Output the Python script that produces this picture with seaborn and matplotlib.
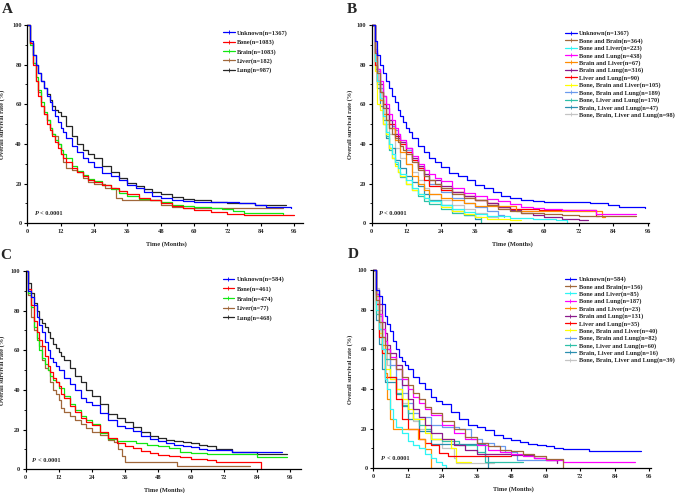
import matplotlib
matplotlib.use('Agg')
import matplotlib.pyplot as plt
import seaborn as sns
import pandas as pd
from matplotlib.lines import Line2D
from matplotlib.ticker import MultipleLocator

# ---- panel A / B shared: Unknown (n=1367)
unk1367_t = [0, 1, 2, 3, 4, 5, 6, 7, 8, 9, 10, 11, 12, 13, 14, 16, 18, 20, 22, 24, 27, 30, 33, 36, 39, 42, 45, 48, 52, 56, 60, 66, 72, 76, 80, 82, 86, 95]
unk1367_s = [100, 92, 85, 80, 76, 72, 68, 64, 61, 57, 54, 51, 48, 46, 43, 39, 36, 33, 31, 28.5, 25.5, 24, 22, 19.5, 18, 16, 14, 13, 12, 11, 10.5, 10.5, 10.5, 10.3, 10, 9, 8, 7.5]

# ---- panel A
bone1083_t = [0, 1, 2, 3, 4, 5, 6, 7, 8, 9, 10, 11, 12, 13, 14, 16, 18, 20, 22, 24, 27, 30, 33, 36, 40, 44, 48, 52, 56, 60, 66, 72, 78, 96]
bone1083_s = [100, 91, 80, 72, 64, 59, 55, 50, 47, 44, 41, 38, 35, 33, 31, 28, 26, 24, 22, 21, 19.5, 18, 16.5, 15, 13, 11.5, 10, 8.5, 7.5, 6.5, 5.5, 4.5, 4, 4]
brain1083_t = [0, 1, 2, 3, 4, 5, 6, 7, 8, 9, 10, 11, 12, 13, 14, 16, 18, 20, 22, 24, 27, 30, 33, 36, 40, 44, 48, 52, 56, 60, 66, 70, 74, 78, 84, 92]
brain1083_s = [100, 90, 81, 74, 67, 61, 56, 52, 48, 45, 42, 40, 37, 35, 33, 29, 26.5, 24.5, 22.5, 21.5, 19.5, 17.5, 15.5, 14, 12.5, 11.5, 10.5, 9, 8.5, 8, 7.5, 7, 6, 5, 5, 4.5]
liver182_t = [0, 1, 2, 3, 4, 5, 6, 7, 8, 9, 10, 11, 12, 13, 14, 16, 18, 20, 22, 24, 28, 32, 34, 38, 44, 48, 52, 56, 64, 72, 80, 92]
liver182_s = [100, 91, 81, 72, 66, 59, 55, 52, 48, 45, 44, 40, 35, 31, 28, 27, 26, 23, 21, 20, 18, 13, 12, 11.5, 11.5, 9, 8, 7.5, 7.5, 7.5, 7.5, 7.5]
lung987_t = [0, 1, 2, 3, 4, 5, 6, 7, 8, 9, 10, 11, 12, 14, 16, 18, 20, 22, 24, 27, 30, 33, 36, 39, 42, 45, 48, 52, 56, 60, 66, 72, 78, 82, 86, 93]
lung987_s = [100, 91, 85, 80, 76, 72, 68, 65, 62, 59, 57, 56, 54, 49, 44, 40, 37, 35, 33, 29, 26, 23, 20.5, 19, 17.5, 16, 15, 13.5, 12.5, 11.5, 10.5, 10, 10, 9, 9, 9]

# ---- panel B
bb364_t = [0, 1, 2, 3, 4, 5, 6, 7, 8, 9, 10, 11, 12, 14, 16, 18, 20, 22, 24, 28, 32, 36, 40, 44, 48, 52, 56, 60, 66, 72, 80, 92]
bb364_s = [100, 86, 76, 66, 58, 52, 48, 45, 43, 41, 39, 37, 35, 31, 27, 24, 22, 20, 18, 15, 13, 11.5, 9, 7, 6, 5, 5, 4.5, 4, 3.5, 3.5, 3.5]
bl223_t = [0, 1, 2, 3, 4, 5, 6, 7, 8, 9, 10, 12, 14, 16, 18, 20, 24, 28, 32, 36, 40, 48, 56, 64, 68]
bl223_s = [100, 82, 72, 63, 54, 46, 40, 35, 31, 28, 25, 22, 18, 15, 13, 11, 9, 7, 5.5, 4.5, 3.5, 2.5, 2, 1.5, 0]
blu438_t = [0, 1, 2, 3, 4, 5, 6, 7, 8, 9, 10, 12, 14, 16, 18, 20, 22, 24, 28, 32, 36, 40, 44, 48, 52, 56, 60, 66, 72, 78, 92]
blu438_s = [100, 87, 78, 72, 64, 60, 55, 52, 48, 45, 42, 38, 34, 30, 27, 25, 23, 21.5, 18, 15.5, 14, 12.5, 11, 9.5, 8, 7.5, 7, 6.5, 6.5, 4.5, 4.5]
brl67_t = [0, 1, 2, 3, 4, 5, 6, 8, 10, 12, 14, 16, 18, 20, 24, 28, 32, 36, 44, 50, 56, 80, 81]
brl67_s = [100, 82, 72, 62, 55, 52, 48, 42, 36, 30, 24, 20, 17, 15, 13, 12, 10, 8.5, 8.5, 6, 6, 3, 3]
brlu316_t = [0, 1, 2, 3, 4, 5, 6, 7, 8, 9, 10, 12, 14, 16, 18, 20, 24, 28, 32, 36, 40, 44, 48, 52, 56, 60, 66, 72, 75]
brlu316_s = [100, 86, 78, 70, 64, 58, 52, 48, 45, 43, 41, 38, 33, 29, 25, 22, 19, 16, 14, 12, 10, 8, 6.5, 5, 4, 3, 2, 1.5, 1.5]
ll90_t = [0, 1, 2, 3, 4, 5, 6, 8, 10, 12, 14, 16, 18, 20, 24, 28, 32, 36, 40, 44, 48, 58, 78, 79]
ll90_s = [100, 80, 72, 66, 60, 55, 50, 44, 40, 36, 32, 28, 22, 19, 17, 16, 14, 12, 10, 8, 7, 6.5, 3.5, 3.5]
bbl105_t = [0, 1, 2, 3, 4, 5, 6, 7, 8, 9, 10, 12, 14, 16, 18, 20, 24, 28, 32, 36, 40, 48, 52]
bbl105_s = [100, 77, 60, 57, 50, 45, 38, 33, 29, 26, 24, 20, 17, 15, 13, 11, 8, 6, 4.5, 3, 2, 1.5, 1.5]
bblu189_t = [0, 1, 2, 3, 4, 5, 6, 7, 8, 9, 10, 12, 14, 16, 18, 20, 24, 28, 32, 36, 40, 44, 46]
bblu189_s = [100, 88, 77, 68, 60, 55, 52, 49, 47, 45, 41, 37, 32, 28, 24, 20, 16, 13, 10, 8, 6, 4, 3]
bllu170_t = [0, 1, 2, 3, 4, 5, 6, 7, 8, 9, 10, 12, 14, 16, 18, 20, 24, 28, 32, 36, 38]
bllu170_s = [100, 78, 70, 62, 52, 44, 37, 33, 30, 26, 23.5, 20, 17, 14, 11, 9.5, 7, 5, 4, 3, 0]
brllu47_t = [0, 1, 2, 3, 4, 5, 6, 8, 10, 12, 14, 16, 18, 20, 24, 28, 32, 36, 38]
brllu47_s = [100, 80, 68, 59, 50, 43, 38, 32, 28, 24, 21, 19, 15, 12, 9, 6, 4, 2, 2]
all98_t = [0, 1, 2, 3, 4, 5, 6, 8, 10, 12, 14, 16, 18, 20, 24, 28, 32, 36, 40, 44]
all98_s = [100, 85, 72, 63, 55, 50, 45, 38, 33, 30, 26, 22, 18, 15, 12, 9, 7, 5, 3, 2]

# ---- panel C / D shared: Unknown (n=584)
unk584_t = [0, 1, 2, 3, 4, 5, 6, 7, 8, 9, 10, 11, 12, 14, 16, 18, 20, 22, 24, 27, 30, 33, 36, 39, 42, 45, 48, 51, 54, 57, 60, 63, 66, 70, 75, 80, 86, 93]
unk584_s = [100, 90, 87, 83, 77, 73, 69, 64, 60, 56, 54, 52, 50, 46, 43, 40, 36, 34, 32.5, 28.5, 25, 22, 21, 19.5, 17, 15.5, 14.5, 13.5, 12.5, 12, 11, 10, 9.5, 9.5, 8.5, 8.5, 8.5, 8.5]

# ---- panel C
bone461_t = [0, 1, 2, 3, 4, 5, 6, 7, 8, 9, 10, 11, 12, 13, 14, 16, 18, 20, 22, 24, 27, 30, 33, 36, 39, 42, 45, 48, 52, 56, 60, 66, 69, 75, 85.5]
bone461_s = [100, 91, 83, 75, 69, 65, 62, 57, 52, 49, 46, 44, 42, 38, 36, 32, 29, 26, 24, 22.5, 19, 16, 13.5, 12, 10.5, 9, 8, 7, 6.5, 6, 5, 4.5, 3.5, 3.5, 0]
brain474_t = [0, 1, 2, 3, 4, 5, 6, 7, 8, 9, 10, 11, 12, 14, 16, 18, 20, 22, 24, 27, 30, 33, 36, 40, 44, 48, 52, 56, 60, 66, 72, 78, 84, 95]
brain474_s = [100, 89, 82, 72, 65, 60, 56, 53, 50, 47, 45, 44, 41, 37, 33, 30, 27, 25, 23, 18.5, 15.5, 14.5, 14.3, 13.5, 12.5, 12, 10.5, 8.5, 8, 7.5, 7.5, 7.5, 6, 6]
liver77_t = [0, 1, 2, 3, 4, 5, 6, 7, 8, 9, 10, 11, 12, 13, 14, 16, 18, 20, 22, 24, 27, 30, 32, 33.5, 35, 36, 51, 55, 81.5]
liver77_s = [100, 88, 77, 70, 66, 62, 55, 51, 50, 44, 40, 38, 35, 31, 29, 27, 25, 23, 21, 19, 17.5, 15, 14, 10, 6.5, 3.5, 3.5, 1.7, 1.7]
lung468_t = [0, 1, 2, 3, 4, 5, 6, 7, 8, 9, 10, 11, 12, 13, 14, 16, 18, 20, 22, 24, 27, 30, 33, 36, 39, 42, 45, 48, 51, 54, 57, 60, 63, 66, 69, 72, 75, 80, 84, 95]
lung468_s = [100, 94, 89, 84, 80, 76, 74, 72, 69, 66, 63, 61, 59, 57, 55, 51, 47, 44, 40, 37, 33, 28, 26, 24, 21.5, 19, 17, 16, 15, 14.5, 14, 13.5, 12.5, 11.5, 10, 10, 8.7, 8.7, 7.5, 7.5]

# ---- panel D
bb156_t = [0, 1, 2, 3, 4, 5, 6, 8, 10, 12, 14, 16, 18, 20, 24, 28, 32, 36, 40, 44, 48, 52, 56, 60, 66]
bb156_s = [100, 85, 74, 66, 62, 58, 55, 50, 46, 42, 38, 35, 31, 28, 24, 20, 16, 13, 11, 9, 8.5, 7, 6, 4.5, 0]
bl85_t = [0, 1, 2, 3, 4, 5, 6, 7, 8, 10, 12, 14, 16, 18, 20, 22, 24, 25.5]
bl85_s = [100, 80, 70, 60, 45, 40, 30, 25, 21, 18, 14, 12, 10, 7, 5, 3, 1.5, 0]
blu187_t = [0, 1, 2, 3, 4, 5, 6, 8, 10, 12, 14, 16, 18, 20, 24, 28, 32, 36, 40, 44, 48, 52, 56, 60, 66, 91]
blu187_s = [100, 88, 78, 70, 64, 60, 56, 50, 45, 40, 36, 33, 30, 27, 22, 18, 15, 12, 9, 8, 7, 6, 5, 4, 3, 3]
brl23_t = [0, 1, 2, 3, 4, 5, 6, 7, 15.5, 18, 20]
brl23_s = [100, 87, 78, 62, 48, 35, 25, 20, 14.7, 9.6, 0]
brlu131_t = [0, 1, 2, 3, 4, 5, 6, 8, 10, 12, 14, 16, 18, 20, 24, 28, 32, 36, 48, 56, 60, 64]
brlu131_s = [100, 90, 83, 74, 68, 62, 58, 52, 42, 35, 30, 26, 22, 18, 15, 12, 9, 7, 6.5, 5, 4, 2.5]
ll35_t = [0, 1, 2, 3, 4, 7, 8, 10, 12, 16, 18, 20, 23, 26, 40, 48]
ll35_s = [100, 83, 66, 58, 46, 46, 35, 25, 20, 15, 13, 11.5, 7.5, 6, 6, 6]
bbl40_t = [0, 1, 2, 3, 4, 6, 8, 10, 12, 14, 18, 20, 24, 27, 29, 34]
bbl40_s = [100, 80, 68, 58, 50, 45, 40, 35, 30, 25, 18, 15, 15, 10, 3, 3]
bblu82_t = [0, 1, 2, 3, 4, 6, 8, 10, 12, 14, 16, 20, 24, 30, 34, 38, 42, 46, 50, 64]
bblu82_s = [100, 88, 77, 66, 60, 52, 45, 38, 33, 28, 26, 22, 21, 20, 15, 13, 11, 8, 4, 3.5]
bllu60_t = [0, 1, 2, 3, 4, 6, 8, 10, 12, 14, 16, 18, 20, 24, 30, 36, 39, 52]
bllu60_s = [100, 78, 70, 60, 55, 46, 38, 32, 28, 25, 22, 20, 15, 14, 12, 8, 3, 3]
brllu16_t = [0, 1, 2, 3, 4, 8, 10, 12, 16, 20, 36, 39, 40]
brllu16_s = [100, 75, 62.5, 50, 43.75, 37.5, 31.25, 25, 18.75, 12.5, 12.5, 6.25, 0]
all39_t = [0, 1, 2, 3, 4, 5, 6, 8, 10, 12, 14, 16, 20, 24, 28, 29, 42]
all39_s = [100, 91, 80, 70, 60, 52, 45, 40, 33, 28, 24, 20, 15, 10, 5, 2.6, 2.6]

# colours
c_unknown = '#0000FF'
c_bone = '#FF0000'
c_brain = '#11E811'
c_liver = '#A0673A'
c_lung = '#262626'
c_bb = '#A0673A'
c_bl = '#2EF5F5'
c_blu = '#FF00FF'
c_brl = '#FF8C00'
c_brlu = '#8B1A8B'
c_ll = '#FF0000'
c_bbl = '#FFFF00'
c_bblu = '#6A9AEE'
c_bllu = '#2EC0A8'
c_brllu = '#2A8FB0'
c_all = '#C4C4C4'

panel_a = [('Unknown(n=1367)', unk1367_t, unk1367_s, c_unknown),
           ('Bone(n=1083)', bone1083_t, bone1083_s, c_bone),
           ('Brain(n=1083)', brain1083_t, brain1083_s, c_brain),
           ('Liver(n=182)', liver182_t, liver182_s, c_liver),
           ('Lung(n=987)', lung987_t, lung987_s, c_lung)]
panel_b = [('Unknown(n=1367)', unk1367_t, unk1367_s, c_unknown),
           ('Bone and Brain(n=364)', bb364_t, bb364_s, c_bb),
           ('Bone and Liver(n=223)', bl223_t, bl223_s, c_bl),
           ('Bone and Lung(n=438)', blu438_t, blu438_s, c_blu),
           ('Brain and Liver(n=67)', brl67_t, brl67_s, c_brl),
           ('Brain and Lung(n=316)', brlu316_t, brlu316_s, c_brlu),
           ('Liver and Lung(n=90)', ll90_t, ll90_s, c_ll),
           ('Bone, Brain and Liver(n=105)', bbl105_t, bbl105_s, c_bbl),
           ('Bone, Brain and Lung(n=189)', bblu189_t, bblu189_s, c_bblu),
           ('Bone, Liver and Lung(n=170)', bllu170_t, bllu170_s, c_bllu),
           ('Brain, Liver and Lung(n=47)', brllu47_t, brllu47_s, c_brllu),
           ('Bone, Brain, Liver and Lung(n=98)', all98_t, all98_s, c_all)]
panel_c = [('Unknown(n=584)', unk584_t, unk584_s, c_unknown),
           ('Bone(n=461)', bone461_t, bone461_s, c_bone),
           ('Brain(n=474)', brain474_t, brain474_s, c_brain),
           ('Liver(n=77)', liver77_t, liver77_s, c_liver),
           ('Lung(n=468)', lung468_t, lung468_s, c_lung)]
panel_d = [('Unknown(n=584)', unk584_t, unk584_s, c_unknown),
           ('Bone and Brain(n=156)', bb156_t, bb156_s, c_bb),
           ('Bone and Liver(n=85)', bl85_t, bl85_s, c_bl),
           ('Bone and Lung(n=187)', blu187_t, blu187_s, c_blu),
           ('Brain and Liver(n=23)', brl23_t, brl23_s, c_brl),
           ('Brain and Lung(n=131)', brlu131_t, brlu131_s, c_brlu),
           ('Liver and Lung(n=35)', ll35_t, ll35_s, c_ll),
           ('Bone, Brain and Liver(n=40)', bbl40_t, bbl40_s, c_bbl),
           ('Bone, Brain and Lung(n=82)', bblu82_t, bblu82_s, c_bblu),
           ('Bone, Liver and Lung(n=60)', bllu60_t, bllu60_s, c_bllu),
           ('Brain, Liver and Lung(n=16)', brllu16_t, brllu16_s, c_brllu),
           ('Bone, Brain, Liver and Lung(n=39)', all39_t, all39_s, c_all)]

sns.set_theme(style='ticks')
plt.rcParams['font.family'] = ['Liberation Serif', 'DejaVu Serif']
plt.rcParams['font.weight'] = 'bold'
plt.rcParams['axes.labelweight'] = 'bold'

W, H = 676, 493
fig = plt.figure(figsize=(W / 100, H / 100), dpi=100)
FS = 4.6


def km_panel(series, x0, y0, ppm, xmax, letter, ylab_x, ptxt, leg_xy, leg_gap):
    # x0,y0: pixel position of data origin (from top-left), ppm: pixels per month
    width = xmax * ppm
    height = 198.3
    ax = fig.add_axes([x0 / W, 1 - y0 / H, width / W, height / H])
    df = pd.concat([pd.DataFrame({'t': t, 's': s, 'grp': lab}) for lab, t, s, c in series])
    pal = {lab: c for lab, t, s, c in series}
    order = [lab for lab, t, s, c in series]
    # draw from last to first so that Unknown sits on top
    sns.lineplot(data=df, x='t', y='s', hue='grp', hue_order=order[::-1], palette=pal,
                 estimator=None, sort=False, drawstyle='steps-post', lw=0.9,
                 legend=False, ax=ax, clip_on=False)
    ax.set_xlim(0, xmax)
    ax.set_ylim(0, 100)
    ax.set_xticks(range(0, 97, 12))
    ax.set_yticks(range(0, 101, 20))
    ax.yaxis.set_minor_locator(MultipleLocator(10))
    sns.despine(ax=ax)
    for sp in ['left', 'bottom']:
        ax.spines[sp].set_linewidth(0.9)
        ax.spines[sp].set_color('black')
    ax.tick_params(which='major', length=2.5, width=0.8, labelsize=FS, pad=1.5, color='black')
    ax.tick_params(which='minor', axis='y', length=1.5, width=0.6, color='black')
    ax.set_xlabel('Time (Months)', fontsize=FS, fontweight='bold')
    ax.set_ylabel('Overall survival rate (%)', fontsize=FS, fontweight='bold')
    ax.xaxis.set_label_coords(0.505, -0.088)
    ax.yaxis.set_label_coords(ylab_x, 0.5)
    ax.text(ptxt[0], ptxt[1], 'P', style='italic', fontsize=FS, fontweight='bold', va='center')
    ax.text(ptxt[0] + 1.9, ptxt[1], '< 0.0001', fontsize=FS, fontweight='bold', va='center')
    handles = [Line2D([0], [0], color=c, lw=0.9, marker='|', ms=2.2, mew=0.6) for lab, t, s, c in series]
    ax.legend(handles, order, loc='upper left', bbox_to_anchor=(leg_xy[0] / W, 1 - leg_xy[1] / H),
              bbox_transform=fig.transFigure, frameon=False, prop={'size': FS, 'weight': 'bold'},
              handlelength=1.8, handletextpad=0.4, labelspacing=leg_gap, borderpad=0, borderaxespad=0)
    fig.text((x0 - 25) / W, 1 - (y0 - 220) / H, letter, fontsize=11, fontweight='bold', va='top', ha='left')
    return ax


km_panel(panel_a, 27.3, 223.3, 2.78, 99, 'A', -0.081, (2.8, 5), (223, 30), 0.55)
km_panel(panel_b, 371.7, 223.3, 2.878, 96.5, 'B', -0.067, (2.5, 5), (565, 30.5), 0.25)
km_panel(panel_c, 25.7, 469.3, 2.753, 100, 'C', -0.075, (2.4, 4.2), (222.7, 276.5), 0.6)
km_panel(panel_d, 373, 468.3, 2.878, 96.5, 'D', -0.072, (2.8, 5), (564.7, 276.5), 0.24)

fig.savefig('out.png', dpi=100)
